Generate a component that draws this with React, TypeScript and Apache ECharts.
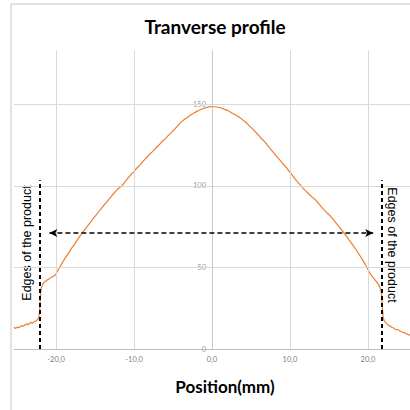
import React, { useEffect, useRef } from "react";
import * as echarts from "echarts";

const positions: number[] = [
  -25.4, -25.2, -25.0, -24.8, -24.6, -24.4, -24.2, -24.0, -23.8, -23.6, -23.4, -23.2, -23.0, -22.8, -22.6, -22.4,
  -22.2, -22.1, -22.0, -21.9, -21.7, -21.5, -21.2, -20.9, -20.6, -20.3, -20.0, -19.7, -19.4, -19.1, -18.8, -18.4,
  -18.0, -17.6, -17.2, -16.8, -16.4, -16.0, -15.6, -15.2, -14.8, -14.4, -14.0, -13.6, -13.2, -12.8, -12.4, -12.0,
  -11.6, -11.2, -10.8, -10.4, -10.0, -9.6, -9.2, -8.8, -8.4, -8.0, -7.6, -7.2, -6.8, -6.4, -6.0, -5.6, -5.2, -4.8,
  -4.4, -4.0, -3.6, -3.2, -2.8, -2.4, -2.0, -1.6, -1.2, -0.8, -0.4, 0.0, 0.4, 0.8, 1.2, 1.6, 2.0, 2.4, 2.8, 3.2,
  3.6, 4.0, 4.4, 4.8, 5.2, 5.6, 6.0, 6.4, 6.8, 7.2, 7.6, 8.0, 8.4, 8.8, 9.2, 9.6, 10.0, 10.4, 10.8, 11.2, 11.6,
  12.0, 12.4, 12.8, 13.2, 13.6, 14.0, 14.4, 14.8, 15.2, 15.6, 16.0, 16.4, 16.8, 17.2, 17.6, 18.0, 18.4, 18.8,
  19.2, 19.6, 19.9, 20.2, 20.5, 20.8, 21.1, 21.4, 21.6, 21.75, 21.85, 21.95, 22.1, 22.3, 22.5, 22.7, 22.9, 23.1,
  23.3, 23.5, 23.7, 23.9, 24.1, 24.3, 24.5, 24.7, 24.9, 25.1, 25.4,
];

const profile: number[] = [
  13.5, 12.6, 13.4, 13.0, 13.6, 14.4, 13.9, 14.8, 15.4, 14.9, 15.8, 16.3, 15.9, 16.8, 17.2, 17.9,
  19.6, 24.5, 33.5, 37.5, 39.8, 41.0, 42.2, 43.0, 44.1, 44.6, 46.0, 48.8, 51.3, 53.8, 56.0, 58.8,
  61.9, 64.5, 67.6, 70.1, 72.8, 75.2, 77.6, 80.3, 82.6, 85.1, 87.4, 89.6, 91.9, 94.3, 96.5, 98.6,
  99.7, 102.2, 104.6, 107.0, 109.0, 111.2, 113.1, 115.4, 117.3, 119.5, 121.2, 123.4, 125.1, 127.3, 128.9, 131.0, 132.9, 134.8,
  136.9, 139.0, 140.6, 141.9, 143.4, 144.4, 145.6, 146.6, 147.4, 148.0, 148.5, 148.7, 148.6, 148.3, 147.8, 147.0, 146.4, 145.2, 144.2, 143.0,
  141.9, 140.3, 138.8, 136.9, 135.0, 133.0, 131.0, 128.8, 126.9, 124.4, 122.2, 119.9, 117.6, 115.4, 113.0, 110.9, 108.4, 106.0, 103.4, 101.3, 99.0,
  97.0, 95.2, 93.3, 91.8, 89.7, 87.3, 85.2, 83.3, 81.5, 79.2, 76.7, 74.5, 72.0, 69.5, 66.8, 64.2, 61.5, 58.6,
  55.6, 52.4, 49.8, 47.0, 44.8, 43.0, 41.3, 39.2, 37.0, 34.0, 26.0, 19.5, 17.2, 16.0, 15.1, 14.3, 14.0, 13.2,
  13.0, 12.0, 11.8, 11.9, 11.0, 10.6, 10.2, 10.0, 9.4, 9.0, 8.5,
];

const xTicks: number[] = [-20, -10, 0, 10, 20];
const yTicks: number[] = [0, 50, 100, 150];
const xGrid: number[] = [-20, -10, 10, 20];
const yGrid: number[] = [50, 100, 150];
const edgeLeft = -22.05;
const edgeRight = 21.75;
const edgeTop = 103.5;
const arrowLeft = -20.86;
const arrowRight = 20.68;
const arrowLevel = 71.2;

const titleText = "Tranverse profile";
const xAxisTitle = "Position(mm)";
const edgeText = "Edges of the product";

export default function App() {
  const ref = useRef<HTMLDivElement>(null);
  useEffect(() => {
    if (!ref.current) return;
    const chart = echarts.init(ref.current, null, { renderer: "svg" });
    const gridColor = "#d9d9d9";
    const fmt = (v: number) => v.toFixed(1).replace(".", ",");
    chart.setOption({
      animation: false,
      backgroundColor: "#ffffff",
      grid: { left: 14, right: 0, top: 50, bottom: 61, containLabel: false },
      xAxis: {
        type: "value",
        min: -25.4,
        max: 25.4,
        axisLine: { show: true, onZero: false, lineStyle: { color: "#bfbfbf", width: 1 } },
        axisTick: { show: false },
        splitLine: { show: false },
        axisLabel: {
          customValues: xTicks,
          formatter: (v: number) => fmt(v),
          color: "#7f7f7f",
          fontSize: 7.5,
          margin: 6,
          fontFamily: "Lato",
        },
      },
      yAxis: {
        type: "value",
        min: 0,
        max: 183.4,
        axisLine: { show: false },
        axisTick: { show: false },
        splitLine: { show: false },
        axisLabel: { show: false },
      },
      series: [
        {
          type: "line",
          data: [],
          z: 1,
          silent: true,
          markLine: {
            silent: true,
            symbol: "none",
            label: { show: false },
            lineStyle: { color: gridColor, type: "solid", width: 1 },
            data: [
              ...xGrid.map((v) => ({ xAxis: v })),
              ...yGrid.map((v) => ({ yAxis: v })),
              { xAxis: 0, lineStyle: { color: "#c8c8c8", type: "solid", width: 1 } },
            ],
          },
        },
        {
          type: "scatter",
          data: yTicks.map((v) => [0, v]),
          symbolSize: 0,
          silent: true,
          z: 2,
          label: {
            show: true,
            position: "left",
            distance: 6,
            formatter: (p: any) => String(p.value[1]),
            color: "#7f7f7f",
            fontSize: 7.5,
            fontFamily: "Lato",
          },
        },
        {
          type: "line",
          data: positions.map((p, i) => [p, profile[i]]),
          showSymbol: false,
          symbol: "none",
          z: 3,
          lineStyle: { color: "#ed7d31", width: 1.2 },
          markLine: {
            silent: true,
            symbol: "none",
            label: { show: false },
            data: [
              [
                { coord: [edgeLeft, 0], lineStyle: { color: "#000", width: 2, type: [4, 3] } },
                { coord: [edgeLeft, edgeTop] },
              ],
              [
                { coord: [edgeRight, 0], lineStyle: { color: "#000", width: 2, type: [4, 3] } },
                { coord: [edgeRight, edgeTop] },
              ],
              [
                {
                  coord: [arrowLeft, arrowLevel],
                  symbol: "arrow",
                  symbolSize: [6, 8],
                  lineStyle: { color: "#000", width: 1.5, type: [5, 3] },
                },
                { coord: [arrowRight, arrowLevel], symbol: "arrow", symbolSize: [6, 8] },
              ],
            ],
          },
        },
      ],
      graphic: [
        {
          type: "rect",
          shape: { x: 11, y: 4, width: 420, height: 420 },
          style: { fill: "none", stroke: "#c6c6c6", lineWidth: 1 },
          silent: true,
          z: -1,
        },
        {
          type: "text",
          x: 215,
          y: 26,
          style: {
            text: titleText,
            fontSize: 19,
            fontWeight: "bold",
            fontFamily: "Lato",
            fill: "#000",
            textAlign: "center",
            textVerticalAlign: "middle",
          },
        },
        {
          type: "text",
          x: 225,
          y: 386,
          style: {
            text: xAxisTitle,
            fontSize: 17,
            fontWeight: "bold",
            fontFamily: "Lato",
            fill: "#000",
            textAlign: "center",
            textVerticalAlign: "middle",
          },
        },
        {
          type: "text",
          x: 27,
          y: 243,
          rotation: Math.PI / 2,
          style: {
            text: edgeText,
            fontSize: 12.5,
            fontFamily: "Liberation Sans",
            fill: "#000",
            textAlign: "center",
            textVerticalAlign: "middle",
          },
        },
        {
          type: "text",
          x: 392,
          y: 245,
          rotation: -Math.PI / 2,
          style: {
            text: edgeText,
            fontSize: 12.5,
            fontFamily: "Liberation Sans",
            fill: "#000",
            textAlign: "center",
            textVerticalAlign: "middle",
          },
        },
      ],
    });
    return () => chart.dispose();
  }, []);
  return (
    <div
      ref={ref}
      style={{ position: "absolute", left: 0, top: 0, width: 410, height: 410 }}
    />
  );
}
